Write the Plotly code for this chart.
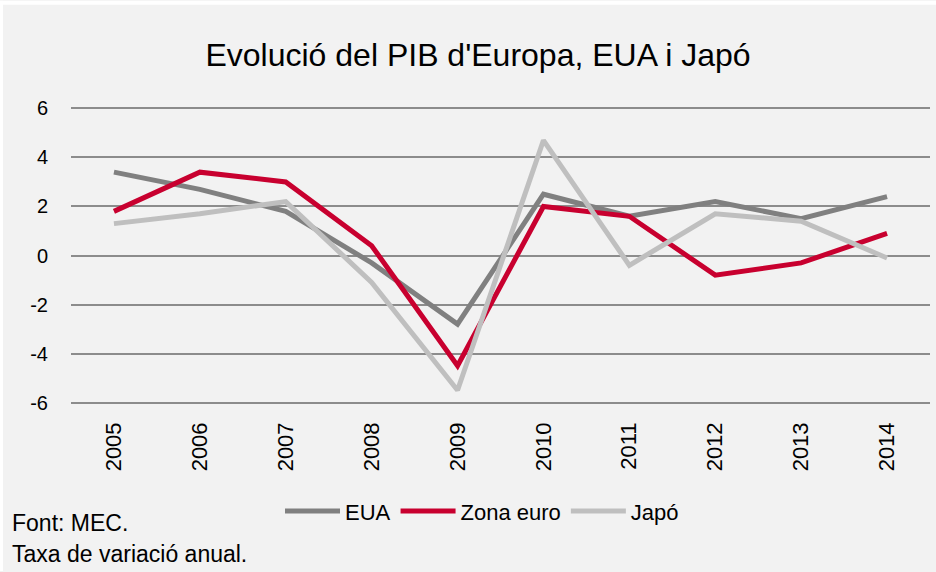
import plotly.graph_objects as go

years = ["2005", "2006", "2007", "2008", "2009", "2010", "2011", "2012", "2013", "2014"]
eua = [3.4, 2.7, 1.8, -0.3, -2.8, 2.5, 1.6, 2.2, 1.5, 2.4]
zona_euro = [1.8, 3.4, 3.0, 0.4, -4.5, 2.0, 1.6, -0.8, -0.3, 0.9]
japo = [1.3, 1.7, 2.2, -1.1, -5.5, 4.7, -0.4, 1.7, 1.4, -0.1]
y_ticks = [-6, -4, -2, 0, 2, 4, 6]
y_tick_labels = ["-6", "-4", "-2", "0", "2", "4", "6"]

NARROW = "Liberation Sans Narrow, Arial Narrow, Liberation Sans, Arial, sans-serif"
REG = "Liberation Sans, Arial, sans-serif"

fig = go.Figure()
for name, vals, col in [("EUA", eua, "#808080"),
                        ("Zona euro", zona_euro, "#c8002f"),
                        ("Japó", japo, "#bfbfbf")]:
    fig.add_trace(go.Scatter(x=years, y=vals, name=name, mode="lines",
                             line=dict(color=col, width=5)))

W, H = 936, 572
L, R = 71, 6
T, B = 105.5, 166.5
pw, ph = W - L - R, H - T - B

def px_x(x):
    return (x - L) / pw

def px_y(y):
    return (H - B - y) / ph

fig.update_layout(
    width=W, height=H,
    margin=dict(l=L, r=R, t=T, b=B),
    paper_bgcolor="#f2f2f2", plot_bgcolor="#f2f2f2",
    title=dict(text="Evolució del PIB d'Europa, EUA i Japó",
               font=dict(family=NARROW, size=32, color="#000000"),
               x=px_x(478), xanchor="center", xref="paper",
               y=1 - 55 / H, yanchor="middle", yref="container"),
    xaxis=dict(type="category", range=[-0.5, 9.5], tickangle=-90,
               showgrid=False, zeroline=False, showline=False, ticks="",
               tickfont=dict(family=REG, size=22, color="#000000"),
               ticklabelstandoff=12),
    yaxis=dict(range=[-6.1, 6.1], tickvals=y_ticks, ticktext=y_tick_labels,
               showgrid=True, gridcolor="#8c8c8c", gridwidth=1.5, zeroline=False,
               showline=False, ticks="",
               tickfont=dict(family=REG, size=20, color="#000000"),
               ticklabelstandoff=22),
    legend=dict(orientation="h", x=px_x(482), xanchor="center",
                y=px_y(512), yanchor="middle", itemwidth=55,
                font=dict(family=NARROW, size=22, color="#000000"),
                bgcolor="rgba(0,0,0,0)"),
    showlegend=True,
    annotations=[
        dict(text="Font: MEC.", xref="paper", yref="paper", x=px_x(10), y=px_y(524),
             xanchor="left", yanchor="middle", showarrow=False,
             font=dict(family=NARROW, size=23, color="#000000")),
        dict(text="Taxa de variació anual.", xref="paper", yref="paper", x=px_x(10), y=px_y(555),
             xanchor="left", yanchor="middle", showarrow=False,
             font=dict(family=NARROW, size=23, color="#000000")),
    ],
    shapes=[
        dict(type="rect", xref="paper", yref="paper", x0=px_x(0), x1=px_x(W),
             y0=px_y(4), y1=px_y(0), fillcolor="#ffffff", line=dict(width=0), layer="below"),
        dict(type="rect", xref="paper", yref="paper", x0=px_x(0), x1=px_x(3),
             y0=px_y(H), y1=px_y(0), fillcolor="#ffffff", line=dict(width=0), layer="below"),
    ],
)

fig.write_html("out.html", config={"displayModeBar": False},
               post_script="document.body.style.margin='0';document.body.style.padding='0';")
